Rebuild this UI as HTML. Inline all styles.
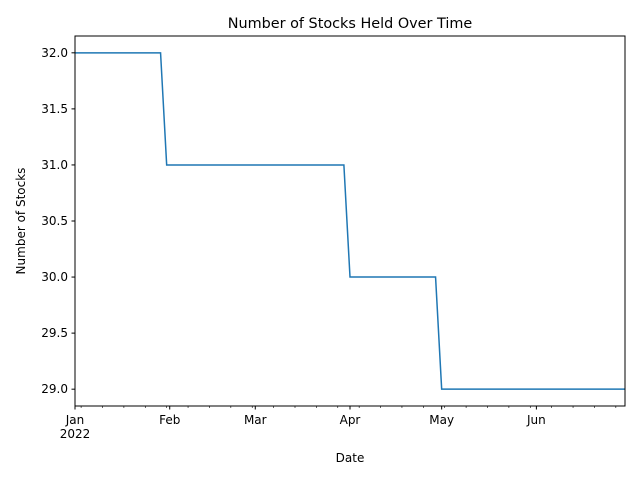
<!DOCTYPE html>
<html><head><meta charset="utf-8"><style>
body{margin:0;background:#fff;}
svg{display:block;font-family:"DejaVu Sans","Liberation Sans",sans-serif;}
</style></head><body>
<svg id="chart" width="640" height="480">
<rect width="640" height="480" fill="#fff"/>
<text x="350" y="28" font-size="14.4" text-anchor="middle" fill="#000">Number of Stocks Held Over Time</text>
<text x="350" y="462" font-size="12" text-anchor="middle" fill="#000">Date</text>
<text transform="translate(25,221) rotate(-90)" font-size="12" text-anchor="middle" fill="#000">Number of Stocks</text>
<g id="ticks"></g>
<g id="series"></g>
<rect x="75" y="36" width="550" height="370" fill="none" stroke="#000" stroke-width="1"/>
</svg>
<script>
const dates = ["2022-01-01","2022-01-29","2022-01-31","2022-03-30","2022-04-01","2022-04-29","2022-05-01","2022-06-30"];
const values = [32,32,31,31,30,30,29,29];
const yTicks = [29.0,29.5,30.0,30.5,31.0,31.5,32.0];
const monthTicks = ["2022-01-01","2022-02-01","2022-03-01","2022-04-01","2022-05-01","2022-06-01"];
const monthLabels = ["Jan","Feb","Mar","Apr","May","Jun"];

const NS="http://www.w3.org/2000/svg";
const L=75,R=625,T=36,B=406;
const x0=Date.UTC(2022,0,1), x1=Date.UTC(2022,5,30);
const ymin=28.85, ymax=32.15;
function day(s){const p=s.split("-");return Date.UTC(+p[0],+p[1]-1,+p[2]);}
function X(t){return L+(t-x0)/(x1-x0)*(R-L);}
function Y(v){return B-(v-ymin)/(ymax-ymin)*(B-T);}
function mk(tag,attrs,parent){const e=document.createElementNS(NS,tag);for(const k in attrs)e.setAttribute(k,attrs[k]);parent.appendChild(e);return e;}
const tg=document.getElementById("ticks");
yTicks.forEach(v=>{
  const y=Y(v);
  const l=mk("line",{x1:L-3.5,x2:L,y1:y,y2:y,stroke:"#000"},tg);
  
  
  const t=mk("text",{x:L-7,y:y+4,"font-size":"12","text-anchor":"end"},tg);
  t.textContent=v.toFixed(1);
  
  
});
const majors=monthTicks.map(day);
majors.forEach((t,i)=>{
  const x=X(t);
  const l=mk("line",{x1:x,x2:x,y1:B,y2:B+3.5,stroke:"#000"},tg);
  
  
  const tx=mk("text",{x:x,y:B+18,"font-size":"12","text-anchor":"middle"},tg);
  tx.textContent=monthLabels[i];
  
  
});
const yr=mk("text",{x:X(majors[0]),y:B+32,"font-size":"12","text-anchor":"middle"},tg);
yr.textContent="2022";


for(let t=Date.UTC(2022,0,3);t<=x1;t+=7*86400000){
  if(majors.includes(t))continue;
  const x=X(t);
  const l=mk("line",{x1:x,x2:x,y1:B,y2:B+2,stroke:"#000","stroke-width":"0.6"},tg);
  
  
}
const pts=dates.map((d,i)=>X(day(d)).toFixed(2)+","+Y(values[i]).toFixed(2)).join(" ");
const line=mk("polyline",{points:pts,fill:"none",stroke:"#1f77b4","stroke-width":"1.5"},document.getElementById("series"));


</script>
</body></html>
